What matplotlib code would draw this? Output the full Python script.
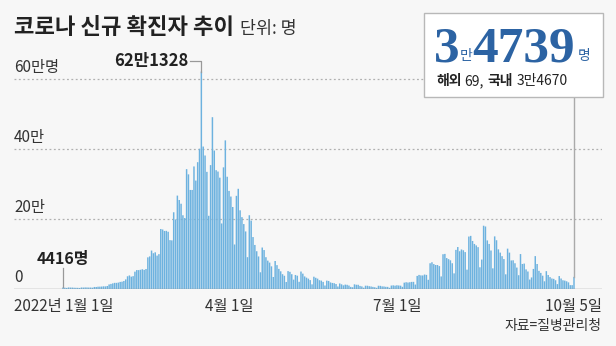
import matplotlib
matplotlib.use('Agg')
import numpy as np
import pandas as pd
import matplotlib.pyplot as plt
from matplotlib.patches import Rectangle

plt.rcParams['font.family'] = ['Noto Sans CJK KR', 'DejaVu Sans']

# 일별 신규 확진자 (2022-01-01 ~ 2022-10-05)
jan = [4416, 3833, 3129, 4442, 4125, 4126, 3714, 3510, 3376, 3005, 4388, 4167, 4542, 4423, 4196, 4194,
       3859, 5804, 5805, 6603, 6769, 7009, 7630, 7513, 8571, 13012, 14518, 16096, 17542, 17528, 18342]
feb = [20270, 20908, 22907, 27443, 36362, 38691, 35286, 36719, 49567, 54122, 53926, 54941, 56431, 54619,
       57177, 90443, 93135, 109831, 102211, 104829, 95362, 99573, 171452, 170016, 165890, 166209, 163565, 139626]
mar = [138993, 219241, 198803, 266853, 254327, 243628, 210716, 202721, 342446, 327549, 282987, 282978,
       350190, 309790, 362338, 400741, 621328, 407017, 381454, 334708, 209169, 353980, 490881, 395598,
       339514, 335580, 318130, 187213, 347554, 424641, 320743]
apr = [280273, 264171, 234301, 127190, 266135, 286294, 224820, 205333, 185566, 164481, 90928, 210755,
       195419, 148443, 125846, 107916, 93001, 47743, 118504, 111319, 90867, 81058, 75449, 64725, 34370,
       80000, 68213, 57464, 50568, 42296]
may = [37771, 20085, 51131, 49064, 42296, 26714, 40064, 38000, 20601, 49933, 43925, 35906, 32451, 29581,
       25434, 13296, 35117, 32057, 29588, 25125, 23956, 20325, 9975, 23945, 23000, 18816, 17295, 16584,
       14248, 7198, 15797]
jun = [13358, 10463, 12542, 12046, 9835, 6000, 5022, 13358, 12127, 12048, 8828, 7382, 3825, 9435, 9315,
       7995, 7198, 6064, 5022, 3423, 9306, 9030, 7497, 7228, 6246, 6068, 3423, 9896, 10455, 9595]
jul = [10715, 10059, 9528, 6254, 18147, 19371, 18511, 19323, 20286, 20410, 12693, 37360, 40266, 38882,
       38691, 41310, 40342, 26299, 73582, 76402, 71170, 68632, 68551, 65433, 35883, 99327, 100285, 88384,
       85320, 81996, 73589]
aug = [44689, 111789, 119922, 107894, 112901, 110666, 105507, 55292, 149897, 151792, 137241, 128714,
       124592, 119603, 62078, 84128, 180803, 178574, 138812, 128714, 110000, 59046, 150320, 139339, 113371,
       103961, 93845, 85540, 41951, 115311, 103961]
sep = [81573, 81995, 73589, 61233, 39400, 99837, 71476, 72646, 56000, 50000, 27000, 33000, 57309, 93981,
       71444, 51877, 46000, 38000, 22000, 51000, 40000, 34000, 30000, 29000, 25000, 14000, 37000, 30000,
       25000, 24000]
oct_ = [22000, 19000, 11000, 11000, 34739]

cases = jan + feb + mar + apr + may + jun + jul + aug + sep + oct_
dates = pd.date_range('2022-01-01', periods=len(cases))

y_ticks = [0, 200000, 400000, 600000]
y_labels = ['0', '20만', '40만', '60만명']
x_tick_dates = ['2022-01-01', '2022-04-01', '2022-07-01', '2022-10-05']
x_tick_labels = ['2022년 1월 1일', '4월 1일', '7월 1일', '10월 5일']

bar_color = '#6db2df'
blue = '#2c63a3'
text_color = '#222222'

W, H = 616, 346
fig = plt.figure(figsize=(W / 100, H / 100), dpi=100)
fig.patch.set_facecolor('#f7f7f7')

def fx(px):
    return px / W

def fy(py):
    return 1 - py / H

# 축 영역 (픽셀 기준)
ax_l, ax_r, ax_b, ax_t = 14, 602, 289, 60
ax = fig.add_axes([fx(ax_l), fy(ax_b), (ax_r - ax_l) / W, (ax_b - ax_t) / H])
ax.set_facecolor('none')
for s in ax.spines.values():
    s.set_visible(False)
ax.set_xticks([])
ax.set_yticks([])

x = np.array([(d - dates[0]).days for d in dates])
n = len(x)
px_first, px_last = 63, 574
scale = (px_last - px_first) / (n - 1)
ax.set_xlim(-(px_first - ax_l) / scale, (n - 1) + (ax_r - px_last) / scale)
y_per_px = 600000 / (289 - 79)
ax.set_ylim(0, (ax_b - ax_t) * y_per_px)

def yval(py):
    return (ax_b - py) * y_per_px

bars = ax.bar(x, cases, width=0.8, color=bar_color, linewidth=0, zorder=2)
for b in bars:
    b.set_snap(False)

for v in y_ticks[1:]:
    ax.axhline(v, color='#b0b0b0', lw=0.9, ls=(0, (1.5, 2)), zorder=1)
ax.axhline(0, color='#9a9a9a', lw=1, zorder=3)

for v, lab in zip(y_ticks, y_labels):
    ax.annotate(lab, xy=(0, v), xycoords=ax.get_yaxis_transform(), xytext=(0, 2),
                textcoords='offset points', ha='left', va='bottom', fontsize=11, color='#333333')

# x축 라벨
tick_x = [(pd.Timestamp(d) - dates[0]).days for d in x_tick_dates]
aligns = ['left', 'center', 'center', 'right']
for tx, lab, ha in zip(tick_x, x_tick_labels, aligns):
    if ha == 'left':
        fig.text(fx(ax_l), fy(307), lab, ha='left', va='center', fontsize=11, color='#333333')
    elif ha == 'right':
        fig.text(fx(ax_r), fy(307), lab, ha='right', va='center', fontsize=11, color='#333333')
    else:
        ax.annotate(lab, xy=(tx, 0), xycoords='data', xytext=(0, -18 * 0.72),
                    textcoords='offset points', ha='center', va='center', fontsize=11, color='#333333')

fig.text(fx(601), fy(326), '자료=질병관리청', ha='right', va='center', fontsize=10, color='#333333')

# 최대값 / 시작값 주석
i_max = int(np.argmax(cases))
ax.plot([i_max - 6, i_max, i_max], [yval(61), yval(61), cases[i_max]], color='#999999', lw=0.9,
        clip_on=False, zorder=3)
ax.text(i_max - 6.8, yval(61), '62만1328', ha='right', va='center', fontsize=12, fontweight='bold',
        color=text_color)
ax.plot([0, 0], [cases[0], yval(268)], color='#999999', lw=0.9, zorder=3)
ax.text(0, yval(264), '4416명', ha='center', va='baseline', fontsize=11.5, fontweight='bold',
        color=text_color)

# 마지막 값 연결선
ax.plot([n - 1, n - 1], [cases[-1], yval(ax_t)], color='#aaaaaa', lw=1, clip_on=False, zorder=3)

# 제목
renderer = fig.canvas.get_renderer()

def after(t, gap=0):
    bb = t.get_window_extent(renderer)
    return bb.x1 / fig.bbox.width + gap / W

t = fig.text(fx(14), fy(34), '코로나 신규 확진자 추이', ha='left', va='baseline', fontsize=16,
             fontweight='bold', color=text_color)
fig.text(after(t, 6), fy(34), '단위: 명', ha='left', va='baseline', fontsize=12.5, color='#333333')

# 오른쪽 상자
box = Rectangle((fx(424), fy(97)), (603 - 424) / W, (97 - 13) / H, transform=fig.transFigure,
                facecolor='white', edgecolor='#b8b8b8', lw=1, zorder=5)
fig.add_artist(box)

serif = ['Liberation Serif', 'DejaVu Serif']
t = fig.text(fx(434), fy(62), '3', family=serif, fontweight='bold', fontsize=37, color=blue,
             va='baseline', ha='left', zorder=6)
t = fig.text(after(t, 0), fy(60), '만', fontsize=10, color=blue, va='baseline', ha='left', zorder=6)
t = fig.text(after(t, 0), fy(62), '4739', family=serif, fontweight='bold', fontsize=37, color=blue,
             va='baseline', ha='left', zorder=6)
fig.text(after(t, 3), fy(60), '명', fontsize=10, color=blue, va='baseline', ha='left', zorder=6)

t = fig.text(fx(436), fy(85), '해외', fontsize=10, fontweight='bold', color=text_color,
             va='baseline', ha='left', zorder=6)
t = fig.text(after(t, 3), fy(85), '69,', fontsize=10, color=text_color, va='baseline', ha='left', zorder=6)
t = fig.text(after(t, 4), fy(85), '국내', fontsize=10, fontweight='bold', color=text_color,
             va='baseline', ha='left', zorder=6)
fig.text(after(t, 3), fy(85), '3만4670', fontsize=10, color=text_color, va='baseline', ha='left', zorder=6)

fig.savefig('out.png', dpi=100, facecolor=fig.get_facecolor())
